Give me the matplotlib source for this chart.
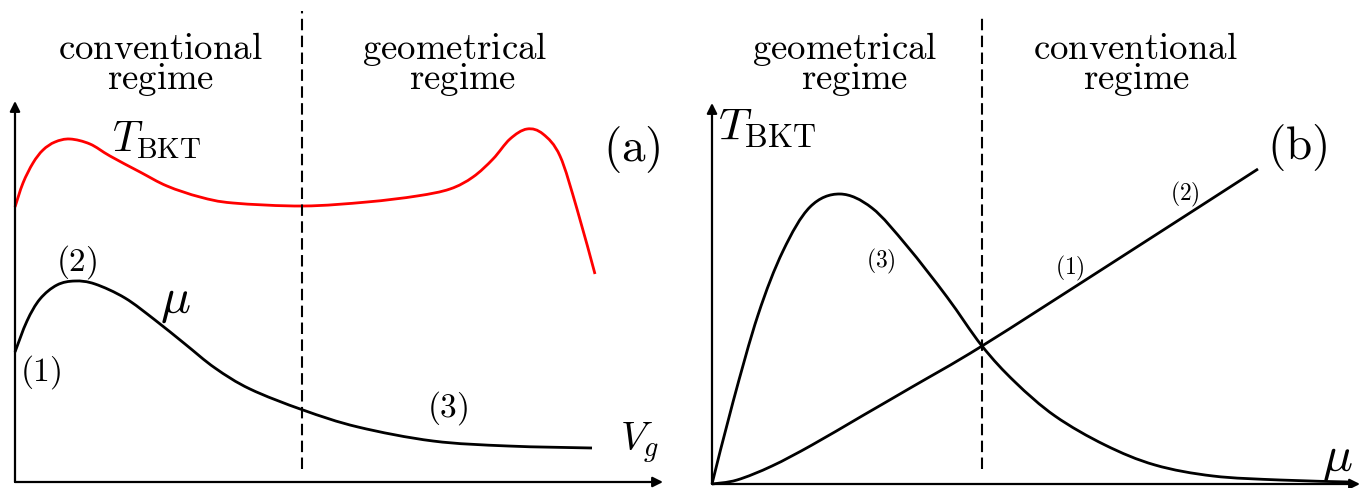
import numpy as np
import matplotlib
matplotlib.use("Agg")
from matplotlib import pyplot as plt
from matplotlib.path import Path
from matplotlib.patches import PathPatch

plt.rcParams["mathtext.fontset"] = "cm"
plt.rcParams["font.family"] = "serif"

# schematic curves (units: pixels from each panel's origin)
# panel (a): T_BKT (red) and mu (black) versus V_g
a_tbkt_x = [0, 8, 18, 28, 40, 55, 75, 95, 125, 152, 185, 218, 288, 352, 402, 435,
            458, 478, 495, 512, 528, 545, 562, 580]
a_tbkt_y = [275, 299, 319, 332, 340, 343, 338, 326, 310, 296, 285, 279, 276, 280,
            286, 293, 305, 323, 343, 353, 348, 326, 273, 208]
a_mu_x = [0, 12, 25, 42, 60, 80, 110, 140, 170, 200, 235, 288, 343, 418, 493, 577]
a_mu_y = [130, 161, 183, 197, 201, 198, 184, 162, 138, 114, 93, 72, 55, 41, 36, 34]
a_split = 287

# panel (b): T_BKT versus mu
b_geo_x = [0, 21, 46, 71, 98, 128, 160, 195, 235, 270, 303, 343, 393, 443, 501,
           568, 638]
b_geo_y = [0, 82, 169, 233, 277, 290, 276, 238, 187, 138, 102, 68, 39, 19, 8, 4, 2]
b_conv_x = [0, 25, 60, 100, 150, 200, 270, 400, 546]
b_conv_y = [0, 4, 18, 39, 68, 97, 138, 221, 315]
b_split = 270

W, H = 1369, 489
fig = plt.figure(figsize=(W / 100., H / 100.), dpi=100)

ax1 = fig.add_axes([0, 0, 684. / W, 1])
ax1.set_xlim(-15, 669)
ax1.set_ylim(-6, 483)
ax2 = fig.add_axes([690. / W, 0, 679. / W, 1])
ax2.set_xlim(-22, 657)
ax2.set_ylim(-4, 485)

for ax in (ax1, ax2):
    ax.set_axis_off()


def smooth(ax, xs, ys, **kw):
    # draw a smooth curve through the read points (Catmull-Rom as cubic Beziers)
    p = np.column_stack([xs, ys]).astype(float)
    q = np.vstack([p[0], p, p[-1]])
    verts = [p[0]]
    codes = [Path.MOVETO]
    for i in range(1, len(q) - 2):
        c1 = q[i] + (q[i + 1] - q[i - 1]) / 6.
        c2 = q[i + 1] - (q[i + 2] - q[i]) / 6.
        verts += [c1, c2, q[i + 1]]
        codes += [Path.CURVE4] * 3
    ax.add_patch(PathPatch(Path(verts, codes), fill=False, capstyle="butt", **kw))


def arrows(ax, xtip, ytip):
    for tip in [(xtip, 0), (0, ytip)]:
        ax.annotate(
            "", xy=tip, xytext=(0, 0),
            arrowprops=dict(arrowstyle="-|>", lw=1.6, color="k",
                            mutation_scale=15, shrinkA=0, shrinkB=0),
        )


lab = dict(ha="center", va="baseline", fontsize=26.5)

# (a)
arrows(ax1, 648, 381)
ax1.plot([a_split, a_split], [13, 471], color="k", lw=1.5, ls=(0, (5.5, 2.6)))
smooth(ax1, a_tbkt_x, a_tbkt_y, color="red", lw=2.0)
smooth(ax1, a_mu_x, a_mu_y, color="k", lw=2.0)
ax1.text(145, 424, r"$\mathrm{conventional}$", **lab)
ax1.text(146, 394, r"$\mathrm{regime}$", **lab)
ax1.text(440, 424, r"$\mathrm{geometrical}$", **lab)
ax1.text(448, 394, r"$\mathrm{regime}$", **lab)
ax1.text(97, 331, r"$T_{\mathrm{BKT}}$", ha="left", va="baseline", fontsize=30)
ax1.text(617, 333, r"$\mathrm{(a)}$", ha="center", va="center", fontsize=34)
ax1.text(62, 221, r"$(2)$", ha="center", va="center", fontsize=24)
ax1.text(26, 111, r"$(1)$", ha="center", va="center", fontsize=24)
ax1.text(433, 75, r"$(3)$", ha="center", va="center", fontsize=24)
ax1.text(160, 183, r"$\mu$", ha="center", va="center", fontsize=36)
ax1.text(624, 40, r"$V_g$", ha="center", va="center", fontsize=29)

# (b)
arrows(ax2, 648, 381)
ax2.plot([b_split, b_split], [15, 469], color="k", lw=1.5, ls=(0, (5.5, 2.6)))
smooth(ax2, b_geo_x, b_geo_y, color="k", lw=2.0)
smooth(ax2, b_conv_x, b_conv_y, color="k", lw=2.0)
ax2.text(133, 426, r"$\mathrm{geometrical}$", **lab)
ax2.text(143, 396, r"$\mathrm{regime}$", **lab)
ax2.text(423, 426, r"$\mathrm{conventional}$", **lab)
ax2.text(425, 396, r"$\mathrm{regime}$", **lab)
ax2.text(6, 345, r"$T_{\mathrm{BKT}}$", ha="left", va="baseline", fontsize=33)
ax2.text(585, 337, r"$\mathrm{(b)}$", ha="center", va="center", fontsize=34)
ax2.text(169, 224, r"$(3)$", ha="center", va="center", fontsize=17)
ax2.text(358, 217, r"$(1)$", ha="center", va="center", fontsize=17)
ax2.text(473, 291, r"$(2)$", ha="center", va="center", fontsize=17)
ax2.text(625, 27, r"$\mu$", ha="center", va="center", fontsize=36)

fig.savefig("out.png", dpi=100)
